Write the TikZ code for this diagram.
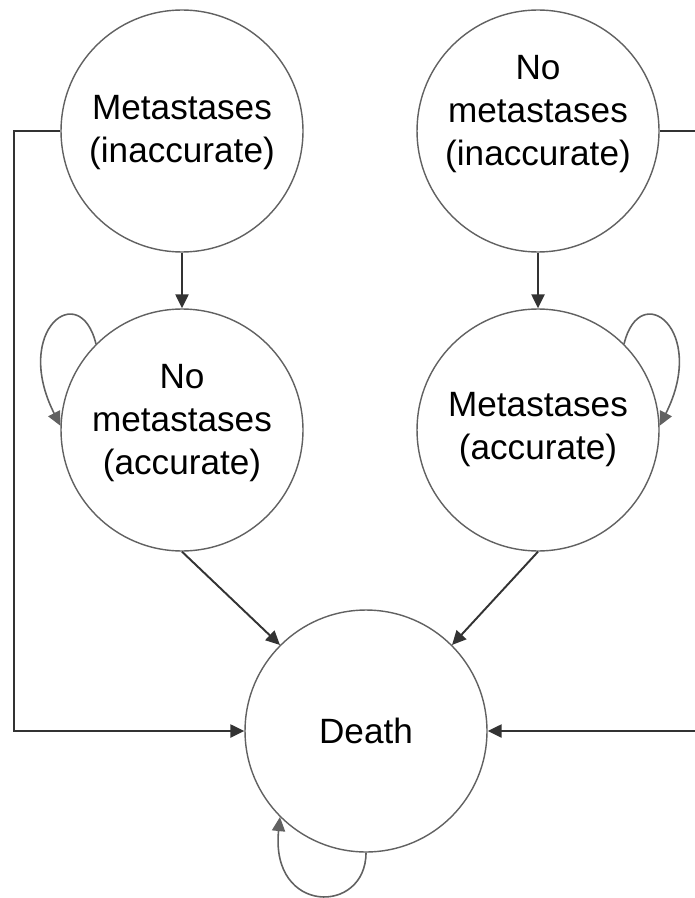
\documentclass[tikz,border=0pt]{standalone}
\usepackage{fontspec}
\setmainfont{Liberation Sans}
\usetikzlibrary{arrows.meta}
\begin{document}
\begin{tikzpicture}[x=0.02cm,y=-0.02cm,
  state/.style={circle,draw=black!62,line width=0.8pt,minimum size=4.84cm,inner sep=0pt},
  lbl/.style={align=center,font=\fontsize{20}{24.5}\selectfont,inner sep=0pt},
  conn/.style={draw=black!80,line width=1.1pt,-{Triangle[length=8pt,width=7.5pt]}},
  loopc/.style={draw=black!62,line width=0.9pt,-{Triangle[length=8pt,width=7.5pt]}}]
\useasboundingbox (0,0) rectangle (695,898);
\clip (0,0) rectangle (695,898);
\node[state] (TL) at (182,131) {};
\node[state] (TR) at (538,131) {};
\node[state] (ML) at (182,430) {};
\node[state] (MR) at (538,430) {};
\node[state] (D) at (366,731) {};
\node[lbl] (TLt) at (182,133) {Metastases\\(inaccurate)};
\node[lbl] (TRt) at (538,114) {No\\metastases\\(inaccurate)};
\node[lbl] (MLt) at (182,423) {No\\metastases\\(accurate)};
\node[lbl] (MRt) at (538,430) {Metastases\\(accurate)};
\node[lbl] (Dt) at (366,731) {Death};
\coordinate (lc) at (14,131);
\coordinate (rc) at (697,131);
\draw[conn] (TL.west) -- (lc) |- (D.west);
\draw[conn] (TR.east) -- (rc) |- (D.east);
\draw[conn] (TL.south) -- (ML.north);
\draw[conn] (TR.south) -- (MR.north);
\draw[conn] (ML.south) -- (D.135);
\draw[conn] (MR.south) -- (D.45);
\draw[loopc] (ML.135) .. controls (80,278) and (12,330) .. (ML.178);
\draw[loopc] (MR.45) .. controls (640,278) and (708,330) .. (MR.2);
\draw[loopc] (D.270) .. controls (366,915) and (270,915) .. (D.225);
\end{tikzpicture}
\end{document}
